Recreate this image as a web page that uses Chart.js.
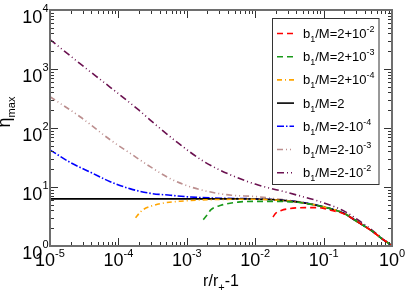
<!DOCTYPE html>
<html>
<head>
<meta charset="utf-8">
<script src="https://cdn.jsdelivr.net/npm/chart.js@4.4.1/dist/chart.umd.min.js"></script>
<style>
  html, body { margin: 0; padding: 0; background: #fff; }
  canvas { display: block; }
</style>
</head>
<body>
<canvas id="etaChart" width="405" height="293"></canvas>
<script>
// values (x = r/r+ - 1, y = eta_max)
const xRed = [0.0182, 0.02, 0.024, 0.0316, 0.054, 0.083, 0.132, 0.2, 0.3, 0.5, 0.7, 0.85, 0.95, 1];
const yRed = [3.1, 3.6, 4.0, 4.3, 4.47, 4.47, 4.0, 3.5, 2.65, 1.82, 1.35, 1.15, 1.05, 1];

const xGreen = [1.74e-3, 2e-3, 2.24e-3, 3.16e-3, 5.6e-3, 0.01, 0.019, 0.038, 0.05, 0.1, 0.2, 0.3, 0.5, 0.7, 0.85, 0.95, 1];
const yGreen = [2.8, 3.4, 4.1, 4.9, 5.55, 5.7, 5.7, 5.55, 5.35, 4.6, 3.55, 2.65, 1.82, 1.35, 1.15, 1.05, 1];

const xOrange = [1.78e-4, 2.1e-4, 2.35e-4, 2.95e-4, 4.2e-4, 8.1e-4, 2.24e-3, 0.01, 0.02, 0.05, 0.1, 0.2, 0.3, 0.5, 0.7, 0.85, 0.95, 1];
const yOrange = [3.0, 3.77, 4.2, 4.7, 5.25, 5.75, 6.1, 6.2, 6.0, 5.4, 4.6, 3.55, 2.65, 1.82, 1.35, 1.15, 1.05, 1];

const xBlack = [1e-5, 1e-4, 1e-3, 5e-3, 0.01, 0.02, 0.05, 0.1, 0.2, 0.3, 0.5, 0.7, 0.85, 0.95, 1];
const yBlack = [6.3, 6.3, 6.3, 6.3, 6.25, 6.05, 5.4, 4.6, 3.55, 2.65, 1.82, 1.35, 1.15, 1.05, 1];

const xBlue = [1e-5, 1.95e-5, 3.9e-5, 7.6e-5, 1.5e-4, 2.95e-4, 5.75e-4, 1.15e-3, 3.16e-3, 0.01, 0.02, 0.05, 0.1, 0.2, 0.3, 0.5, 0.7, 0.85, 0.95, 1];
const yBlue = [42.7, 26.3, 17.8, 12.3, 9.3, 7.8, 7.25, 6.76, 6.45, 6.3, 6.05, 5.45, 4.6, 3.55, 2.65, 1.82, 1.35, 1.15, 1.05, 1];

const xRosy = [1e-5, 2.75e-5, 7.6e-5, 1.5e-4, 2.95e-4, 5.75e-4, 1.15e-3, 2.24e-3, 4.5e-3, 0.01, 0.02, 0.05, 0.1, 0.2, 0.3, 0.5, 0.7, 0.85, 0.95, 1];
const yRosy = [339, 155, 63, 37, 21.9, 13.8, 10, 8.2, 7.25, 6.9, 6.3, 5.5, 4.65, 3.58, 2.67, 1.83, 1.35, 1.15, 1.05, 1];

const xPurple = [1e-5, 2.75e-5, 7.6e-5, 2e-4, 2.95e-4, 7.2e-4, 1.78e-3, 4.5e-3, 0.01, 0.0316, 0.1, 0.2, 0.3, 0.5, 0.7, 0.85, 0.95, 1];
const yPurple = [3162, 1230, 490, 200, 135, 57.5, 27, 15.8, 11.2, 7.9, 5.4, 3.9, 2.9, 1.9, 1.38, 1.16, 1.05, 1];

// legend labels: _ = subscript, ^{..} = superscript
const seriesLabels = [
    'b_1/M=2+10^{-2}',
    'b_1/M=2+10^{-3}',
    'b_1/M=2+10^{-4}',
    'b_1/M=2',
    'b_1/M=2-10^{-4}',
    'b_1/M=2-10^{-3}',
    'b_1/M=2-10^{-2}'
];

const xTickPowers = [-5, -4, -3, -2, -1, 0];
const yTickPowers = [0, 1, 2, 3, 4];

const FONT = '"Liberation Sans", Arial, Helvetica, sans-serif';

function toPoints(xs, ys) {
    return xs.map((x, i) => ({ x: x, y: ys[i] }));
}

function parseRich(str) {
    const out = [];
    let buf = '';
    let i = 0;
    while (i < str.length) {
        const c = str[i];
        if (c === '_' || c === '^') {
            if (buf) { out.push({ t: buf, k: 'n' }); buf = ''; }
            let t;
            if (str[i + 1] === '{') {
                const j = str.indexOf('}', i);
                t = str.slice(i + 2, j);
                i = j + 1;
            } else {
                t = str[i + 1];
                i += 2;
            }
            out.push({ t: t, k: c === '_' ? 'sub' : 'sup' });
        } else {
            buf += c;
            i++;
        }
    }
    if (buf) out.push({ t: buf, k: 'n' });
    return out;
}

// draws text with sub/superscripts, returns width
function drawRich(ctx, str, x, y, o) {
    const parts = parseRich(str);
    const widths = parts.map(p => {
        ctx.font = (p.k === 'n' ? o.size : o.small) + 'px ' + FONT;
        return ctx.measureText(p.t).width;
    });
    const total = widths.reduce((a, b) => a + b, 0);
    let cx = x;
    if (o.align === 'center') cx = x - total / 2;
    if (o.align === 'right') cx = x - total;
    ctx.textAlign = 'left';
    ctx.textBaseline = 'alphabetic';
    parts.forEach((p, i) => {
        ctx.font = (p.k === 'n' ? o.size : o.small) + 'px ' + FONT;
        let yy = y;
        if (p.k === 'sup') yy = y - o.rise;
        if (p.k === 'sub') yy = y + o.drop;
        ctx.fillText(p.t, cx, yy);
        cx += widths[i];
    });
    return total;
}

const framePlugin = {
    id: 'framePlugin',
    afterDatasetsDraw(chart) {
        const ctx = chart.ctx;
        const area = chart.chartArea;
        const xs = chart.scales.x;
        const ys = chart.scales.y;
        ctx.save();

        // inward ticks on all four sides
        ctx.strokeStyle = '#333';
        ctx.lineWidth = 1;
        ctx.beginPath();
        for (let d = -5; d <= 0; d++) {
            for (let k = 1; k <= 9; k++) {
                if (d === 0 && k > 1) break;
                const px = Math.round(xs.getPixelForValue(k * Math.pow(10, d))) + 0.5;
                const len = k === 1 ? 8 : 4;
                ctx.moveTo(px, area.bottom);
                ctx.lineTo(px, area.bottom - len);
                ctx.moveTo(px, area.top);
                ctx.lineTo(px, area.top + len);
            }
        }
        for (let d = 0; d <= 4; d++) {
            for (let k = 1; k <= 9; k++) {
                if (d === 4 && k > 1) break;
                const py = Math.round(ys.getPixelForValue(k * Math.pow(10, d))) + 0.5;
                const len = k === 1 ? 8 : 4;
                ctx.moveTo(area.left, py);
                ctx.lineTo(area.left + len, py);
                ctx.moveTo(area.right, py);
                ctx.lineTo(area.right - len, py);
            }
        }
        ctx.stroke();

        // frame
        ctx.strokeStyle = '#6e6e6e';
        ctx.lineWidth = 2;
        ctx.strokeRect(area.left, area.top, area.right - area.left, area.bottom - area.top);

        // tick labels
        ctx.fillStyle = '#000';
        xTickPowers.forEach(p => {
            const px = xs.getPixelForValue(Math.pow(10, p));
            drawRich(ctx, '10^{' + p + '}', px, area.bottom + 20, { size: 18, small: 11, rise: 9.5, drop: 0, align: 'center' });
        });
        yTickPowers.forEach(p => {
            const py = ys.getPixelForValue(Math.pow(10, p));
            drawRich(ctx, '10^{' + p + '}', area.left - 1.5, py + 12.5, { size: 18, small: 11, rise: 10.5, drop: 0, align: 'right' });
        });

        // axis titles
        drawRich(ctx, 'r/r_+-1', (area.left + area.right) / 2, 286, { size: 16, small: 11, rise: 0, drop: 5, align: 'center' });
        ctx.save();
        ctx.translate(10, 112);
        ctx.rotate(-Math.PI / 2);
        drawRich(ctx, 'η_{max}', 0, 0, { size: 18, small: 11, rise: 0, drop: 5, align: 'center' });
        ctx.restore();

        // legend box
        const bx = 272.5, by = 18.5, bw = 106.5, bh = 166;
        ctx.fillStyle = '#fff';
        ctx.fillRect(bx, by, bw, bh);
        ctx.strokeStyle = '#333';
        ctx.lineWidth = 1;
        ctx.strokeRect(bx, by, bw, bh);
        chart.data.datasets.forEach((ds, i) => {
            const ly = 33.5 + i * 23.2;
            ctx.strokeStyle = ds.borderColor;
            ctx.lineWidth = ds.borderWidth;
            ctx.setLineDash(ds.borderDash || []);
            ctx.beginPath();
            ctx.moveTo(277, ly);
            ctx.lineTo(294, ly);
            ctx.stroke();
            ctx.setLineDash([]);
            ctx.fillStyle = '#000';
            drawRich(ctx, ds.label, 303, ly + 4.5, { size: 13, small: 9, rise: 6, drop: 4, align: 'left' });
        });
        ctx.restore();
    }
};

const seriesX = [xRed, xGreen, xOrange, xBlack, xBlue, xRosy, xPurple];
const seriesY = [yRed, yGreen, yOrange, yBlack, yBlue, yRosy, yPurple];
const seriesColors = ['#ff0000', '#1a9a1a', '#ffa500', '#000000', '#0000ff', '#bc8f8f', '#6b1150'];
const seriesDashes = [[6, 4], [6, 4], [5, 3, 1, 3], [], [7, 2, 1.5, 2], [6, 3, 1, 3, 1, 3], [7, 3, 1, 3, 1, 3]];

const datasets = seriesLabels.map((label, i) => ({
    label: label,
    data: toPoints(seriesX[i], seriesY[i]),
    borderColor: seriesColors[i],
    borderWidth: 1.6,
    borderDash: seriesDashes[i],
    pointRadius: 0,
    fill: false,
    cubicInterpolationMode: 'monotone'
}));

new Chart(document.getElementById('etaChart').getContext('2d'), {
    type: 'line',
    data: { datasets: datasets },
    options: {
        responsive: false,
        animation: false,
        devicePixelRatio: 1,
        layout: { padding: { left: 50, right: 13, top: 10, bottom: 47 } },
        plugins: {
            legend: { display: false },
            tooltip: { enabled: false }
        },
        scales: {
            x: { type: 'logarithmic', min: 1e-5, max: 1, display: false },
            y: { type: 'logarithmic', min: 1, max: 1e4, display: false }
        }
    },
    plugins: [framePlugin]
});
</script>
</body>
</html>
